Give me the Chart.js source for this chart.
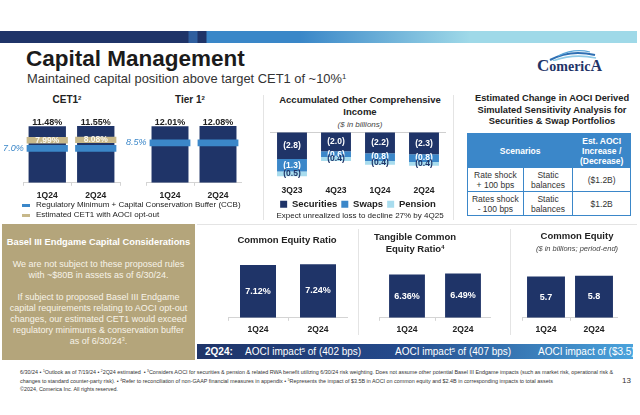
<!DOCTYPE html>
<html>
<head>
<meta charset="utf-8">
<script src="https://cdn.jsdelivr.net/npm/chart.js@4.4.1/dist/chart.umd.min.js"></script>
<style>
html, body { margin: 0; padding: 0; background: #fff; }
body { width: 640px; height: 415px; position: relative; overflow: hidden; font-family: "Liberation Sans", Arial, sans-serif; color: #222; }
.a { position: absolute; white-space: nowrap; }
.c { text-align: center; }
.b { font-weight: bold; }
.it { font-style: italic; font-weight: normal; }
sup { font-size: 0.6em; line-height: 0; vertical-align: 0.55em; }
.vl { position: absolute; width: 1px; background: #e4e4e4; }
.hl { position: absolute; height: 1px; background: #e4e4e4; }
.cv { position: absolute; }
table { border-collapse: collapse; }
td { border: 1px solid #3b87c9; text-align: center; font-size: 8.5px; line-height: 10px; color: #333; padding: 0; }
td.h { background: #3b87c9; color: #fff; font-weight: bold; }
</style>
</head>
<body>

<div class="a" style="left:0;top:31px;width:637px;height:12px;background:linear-gradient(90deg,#1f3468 0,#1f3468 188px,#2f5f9f 189px,#2f5f9f 197px,#1f3468 198px,#1f3468 206px,#3a87c8 207px,#3a87c8 300px,#9fd9e8 470px,#9fd9e8 100%);"></div>
<div class="a b" style="left:26px;top:46px;font-size:22.5px;line-height:25px;color:#1b1b1b;">Capital Management</div>
<div class="a" style="left:27px;top:71px;font-size:12.9px;line-height:15px;color:#333;">Maintained capital position above target CET1 of ~10%<sup>1</sup></div>

<svg class="a" style="left:548px;top:49px" width="50" height="12">
  <path d="M2 11 Q22 0 47 6" stroke="#2f6fb3" stroke-width="2" fill="none"/>
  <path d="M5 12 Q25 4 48 9" stroke="#8fcbe8" stroke-width="1.6" fill="none"/>
  <path d="M10 7 Q26 -1 42 3" stroke="#5aa6d8" stroke-width="1.2" fill="none"/>
</svg>
<div class="a" style="left:537px;top:58px;font-family:'Liberation Serif',serif;font-size:14px;line-height:15px;color:#1f3468;font-weight:bold;"><span style="font-size:17px">C</span>omeric<span style="font-size:16px">A</span></div>

<!-- section titles -->
<div class="a c b" style="left:17px;top:94px;width:100px;font-size:10px;line-height:12px;">CET1<sup>2</sup></div>
<div class="a c b" style="left:140px;top:94px;width:100px;font-size:10px;line-height:12px;">Tier 1<sup>2</sup></div>
<div class="a c b" style="left:270px;top:94px;width:180px;font-size:9.5px;line-height:12px;">Accumulated Other Comprehensive<br>Income<br><span class="it" style="font-size:8px;color:#444;">($ in billions)</span></div>
<div class="a c b" style="left:462px;top:93px;width:180px;font-size:9.3px;line-height:11.5px;">Estimated Change in AOCI Derived<br>Simulated Sensitivity Analysis for<br>Securities &amp; Swap Portfolios</div>

<div class="vl" style="left:263px;top:95px;height:125px;"></div>
<div class="vl" style="left:453px;top:95px;height:125px;"></div>
<div class="hl" style="left:197px;top:224px;width:440px;"></div>

<div class="cv" style="left:0;top:112px;width:121px;height:94px;"><canvas id="cet1"></canvas></div>
<div class="cv" style="left:124px;top:112px;width:118px;height:94px;"><canvas id="tier1"></canvas></div>
<div class="cv" style="left:262px;top:131px;width:192px;height:88px;"><canvas id="aoci"></canvas></div>

<div class="a" style="left:22px;top:204px;width:8px;height:3px;background:#3b87c9;"></div>
<div class="a" style="left:36px;top:200px;font-size:8px;line-height:10px;">Regulatory Minimum + Capital Conservation Buffer (CCB)</div>
<div class="a" style="left:22px;top:214px;width:8px;height:3px;background:#c7b88a;"></div>
<div class="a" style="left:36px;top:210px;font-size:8px;line-height:10px;">Estimated CET1 with AOCI opt-out</div>

<div class="a c" style="left:270px;top:211px;width:180px;font-size:8px;line-height:10px;">Expect unrealized loss to decline 27% by 4Q25</div>

<table class="a" style="left:467px;top:133px;width:164px;">
  <tr style="height:34px;"><td class="h" colspan="2">Scenarios</td><td class="h" style="width:57px;">Est. AOCI<br>Increase /<br>(Decrease)</td></tr>
  <tr style="height:24px;"><td style="width:55px;">Rate shock<br>+ 100 bps</td><td style="width:49px;">Static<br>balances</td><td>($1.2B)</td></tr>
  <tr style="height:24px;"><td>Rates shock<br>- 100 bps</td><td>Static<br>balances</td><td>$1.2B</td></tr>
</table>

<!-- Basel box -->
<div class="a" style="left:2px;top:224px;width:193px;height:136px;background:#b4a57b;"></div>
<div class="a c b" style="left:2px;top:236px;width:193px;font-size:9.3px;line-height:12px;color:#fff;">Basel III Endgame Capital Considerations</div>
<div class="a c" style="left:2px;top:259px;width:193px;font-size:9px;line-height:11px;color:#f7f3e8;">We are not subject to these proposed rules<br>with ~$80B in assets as of 6/30/24.<br><br>If subject to proposed Basel III Endgame<br>capital requirements relating to AOCI opt-out<br>changes, our estimated CET1 would exceed<br>regulatory minimums &amp; conservation buffer<br>as of 6/30/24<sup>3</sup>.</div>

<div class="a c b" style="left:237px;top:234px;width:100px;font-size:9.5px;line-height:12px;">Common Equity Ratio</div>
<div class="a c b" style="left:365px;top:231px;width:100px;font-size:9.5px;line-height:11.5px;">Tangible Common<br>Equity Ratio<sup>4</sup></div>
<div class="a c b" style="left:517px;top:230px;width:120px;font-size:9.5px;line-height:12px;">Common Equity<br><span class="it" style="font-size:7.5px;color:#444;">($ in billions; period-end)</span></div>
<div class="vl" style="left:358px;top:229px;height:106px;"></div>
<div class="vl" style="left:510px;top:229px;height:106px;"></div>

<div class="cv" style="left:228px;top:250px;width:120px;height:89px;"><canvas id="cer"></canvas></div>
<div class="cv" style="left:379px;top:250px;width:112px;height:89px;"><canvas id="tce"></canvas></div>
<div class="cv" style="left:522px;top:250px;width:96px;height:89px;"><canvas id="ce"></canvas></div>

<div class="a" style="left:197px;top:344px;width:436px;height:15px;background:linear-gradient(90deg,#1f3468 0%,#24498a 45%,#4aa3dc 100%);"></div>
<div class="a b" style="left:205px;top:345px;font-size:10px;line-height:13px;color:#fff;">2Q24:</div>
<div class="a" style="left:245px;top:345px;font-size:10px;line-height:13px;color:#fff;">AOCI impact<sup>5</sup> of (402 bps)</div>
<div class="a" style="left:395px;top:345px;font-size:10px;line-height:13px;color:#fff;">AOCI impact<sup>5</sup> of (407 bps)</div>
<div class="a" style="left:538px;top:345px;font-size:10px;line-height:13px;color:#fff;">AOCI impact of ($3.5)</div>

<div class="a" style="left:20px;top:368px;font-size:5.4px;line-height:8.5px;color:#333;">6/30/24 &bull; <sup>1</sup>Outlook as of 7/19/24 &bull; <sup>2</sup>2Q24 estimated &nbsp;&bull; <sup>3</sup>Considers AOCI for securities &amp; pension &amp; related RWA benefit utilizing 6/30/24 risk weighting. Does not assume other potential Basel III Endgame impacts (such as market risk, operational risk &amp;<br>changes to standard counter-party risk). &bull; <sup>4</sup>Refer to reconciliation of non-GAAP financial measures in appendix &bull; <sup>5</sup>Represents the impact of $3.5B in AOCI on common equity and $2.4B in corresponding impacts to total assets<br>&copy;2024, Comerica Inc. All rights reserved.</div>
<div class="a" style="left:622px;top:376px;font-size:8px;line-height:10px;color:#333;">13</div>

<script>
// values
var quarters = ['1Q24', '2Q24'];
var cet1 = [11.48, 11.55];
var cet1OptOut = [7.99, 8.08];
var cet1RegMin = [7.0, 7.0];
var tier1 = [12.01, 12.08];
var tier1RegMin = [8.5, 8.5];

var aociQuarters = ['3Q23', '4Q23', '1Q24', '2Q24'];
var securities = [-2.8, -2.0, -2.2, -2.3];
var swaps = [-1.3, -0.6, -0.8, -0.8];
var pension = [-0.5, -0.4, -0.4, -0.4];

var commonEquityRatio = [7.12, 7.24];
var tceRatio = [6.36, 6.49];
var commonEquity = [5.7, 5.8];

var NAVY = '#1f3468';
var BLUE = '#3b87c9';
var SKY = '#a8dcee';
var GOLD = '#c7b88a';
var FONT = '"Liberation Sans", Arial, sans-serif';
var BAND = 0.7;     // half thickness of the minimum bands
var GOLD_H = 1.3;   // thickness of the opt-out band

Chart.defaults.font.family = FONT;
Chart.defaults.animation = false;
Chart.defaults.plugins.legend.display = false;
Chart.defaults.plugins.tooltip.enabled = false;

// draws the value text on each bar
var barLabels = {
    id: 'barLabels',
    afterDatasetsDraw: function (chart) {
        var ctx = chart.ctx;
        chart.data.datasets.forEach(function (ds, i) {
            if (!ds.lbl) return;
            chart.getDatasetMeta(i).data.forEach(function (bar, j) {
                var text = ds.lbl.text(j);
                if (!text) return;
                ctx.save();
                ctx.fillStyle = ds.lbl.color;
                ctx.font = ds.lbl.font + ' ' + FONT;
                ctx.textAlign = 'center';
                ctx.textBaseline = 'middle';
                var x = bar.x, y = (bar.y + bar.base) / 2;
                if (ds.lbl.pos === 'top') {
                    ctx.textBaseline = 'bottom';
                    y = Math.min(bar.y, bar.base) + 1;
                }
                if (ds.lbl.pos === 'left') {
                    ctx.textAlign = 'right';
                    x = bar.x - bar.width / 2 - 3;
                }
                ctx.fillText(text, x, y);
                ctx.restore();
            });
        });
    }
};

function pct(arr, d) {
    return function (j) { return arr[j].toFixed(d) + '%'; };
}
function firstOnly(arr, d) {
    return function (j) { return j === 0 ? arr[j].toFixed(d) + '%' : ''; };
}
function paren(arr) {
    return function (j) { return '(' + Math.abs(arr[j]).toFixed(1) + ')'; };
}

function xAxis(pad) {
    return {
        grid: { display: true, drawOnChartArea: false, drawTicks: true, tickLength: 3, color: '#d4d4d4' },
        border: { color: '#d4d4d4' },
        ticks: { color: '#222', font: { size: 8.5, weight: 'bold' }, padding: pad }
    };
}

function smallBars(id, values, max, barPct, textFn) {
    return new Chart(document.getElementById(id), {
        type: 'bar',
        data: {
            labels: quarters,
            datasets: [{
                data: values,
                backgroundColor: NAVY,
                barPercentage: barPct,
                categoryPercentage: 1,
                lbl: { pos: 'center', color: '#fff', font: 'bold 9px', text: textFn }
            }]
        },
        options: {
            responsive: true,
            maintainAspectRatio: false,
            layout: { padding: 0 },
            scales: {
                x: xAxis(4),
                y: { display: false, min: 0, max: max }
            }
        },
        plugins: [barLabels]
    });
}

// CET1
new Chart(document.getElementById('cet1'), {
    type: 'bar',
    data: {
        labels: quarters,
        datasets: [
            { data: cet1OptOut.map(function (v) { return [v, v + GOLD_H]; }), backgroundColor: GOLD,
              barPercentage: 0.85, categoryPercentage: 1, grouped: false,
              lbl: { pos: 'center', color: '#fbf8ee', font: 'bold 8.5px', text: pct(cet1OptOut, 2) } },
            { data: cet1RegMin.map(function (v) { return [v - BAND, v + BAND]; }), backgroundColor: BLUE,
              barPercentage: 0.85, categoryPercentage: 1, grouped: false,
              lbl: { pos: 'left', color: BLUE, font: 'italic 9px', text: firstOnly(cet1RegMin, 1) } },
            { data: cet1, backgroundColor: NAVY, barPercentage: 0.77, categoryPercentage: 1, grouped: false,
              lbl: { pos: 'top', color: '#222', font: 'bold 9px', text: pct(cet1, 2) } }
        ]
    },
    options: {
        responsive: true,
        maintainAspectRatio: false,
        layout: { padding: { left: 23, right: 1, top: 0, bottom: 0 } },
        scales: { x: xAxis(5), y: { display: false, min: 0, max: 14.4 } }
    },
    plugins: [barLabels]
});

// Tier 1
new Chart(document.getElementById('tier1'), {
    type: 'bar',
    data: {
        labels: quarters,
        datasets: [
            { data: tier1RegMin.map(function (v) { return [v - BAND, v + BAND]; }), backgroundColor: BLUE,
              barPercentage: 0.85, categoryPercentage: 1, grouped: false,
              lbl: { pos: 'left', color: BLUE, font: 'italic 9px', text: firstOnly(tier1RegMin, 1) } },
            { data: tier1, backgroundColor: NAVY, barPercentage: 0.77, categoryPercentage: 1, grouped: false,
              lbl: { pos: 'top', color: '#222', font: 'bold 9px', text: pct(tier1, 2) } }
        ]
    },
    options: {
        responsive: true,
        maintainAspectRatio: false,
        layout: { padding: { left: 22, right: 0, top: 0, bottom: 0 } },
        scales: { x: xAxis(5), y: { display: false, min: 0, max: 15.06 } }
    },
    plugins: [barLabels]
});

// AOCI stacked (negative values hang from the zero line)
new Chart(document.getElementById('aoci'), {
    type: 'bar',
    data: {
        labels: aociQuarters,
        datasets: [
            { label: 'Securities', data: securities, backgroundColor: NAVY,
              lbl: { pos: 'center', color: '#fff', font: 'bold 8.5px', text: paren(securities) } },
            { label: 'Swaps', data: swaps, backgroundColor: BLUE,
              lbl: { pos: 'center', color: '#fff', font: 'bold 8.5px', text: paren(swaps) } },
            { label: 'Pension', data: pension, backgroundColor: SKY,
              lbl: { pos: 'center', color: NAVY, font: 'bold 8.5px', text: paren(pension) } }
        ]
    },
    options: {
        responsive: true,
        maintainAspectRatio: false,
        datasets: { bar: { barPercentage: 0.68, categoryPercentage: 1 } },
        layout: { padding: { left: 8, right: 8, top: 1, bottom: 0 } },
        plugins: {
            legend: {
                display: true,
                position: 'bottom',
                labels: { boxWidth: 7, boxHeight: 7, padding: 4, color: '#222', font: { size: 9.5, weight: 'bold' } }
            }
        },
        scales: {
            x: {
                stacked: true,
                grid: { display: false },
                border: { display: false },
                ticks: { color: '#222', font: { size: 8.5, weight: 'bold' }, padding: 0 }
            },
            y: {
                stacked: true,
                min: -4.7, max: 0,
                ticks: { display: false },
                border: { display: false },
                grid: {
                    drawTicks: false,
                    color: function (c) { return c.tick.value === 0 ? '#cfcfcf' : 'transparent'; }
                }
            }
        }
    },
    plugins: [barLabels]
});

smallBars('cer', commonEquityRatio, 9.15, 0.6, pct(commonEquityRatio, 2));
smallBars('tce', tceRatio, 9.96, 0.64, pct(tceRatio, 2));
smallBars('ce', commonEquity, 9.33, 0.79, function (j) { return commonEquity[j].toFixed(1); });
</script>
</body>
</html>
